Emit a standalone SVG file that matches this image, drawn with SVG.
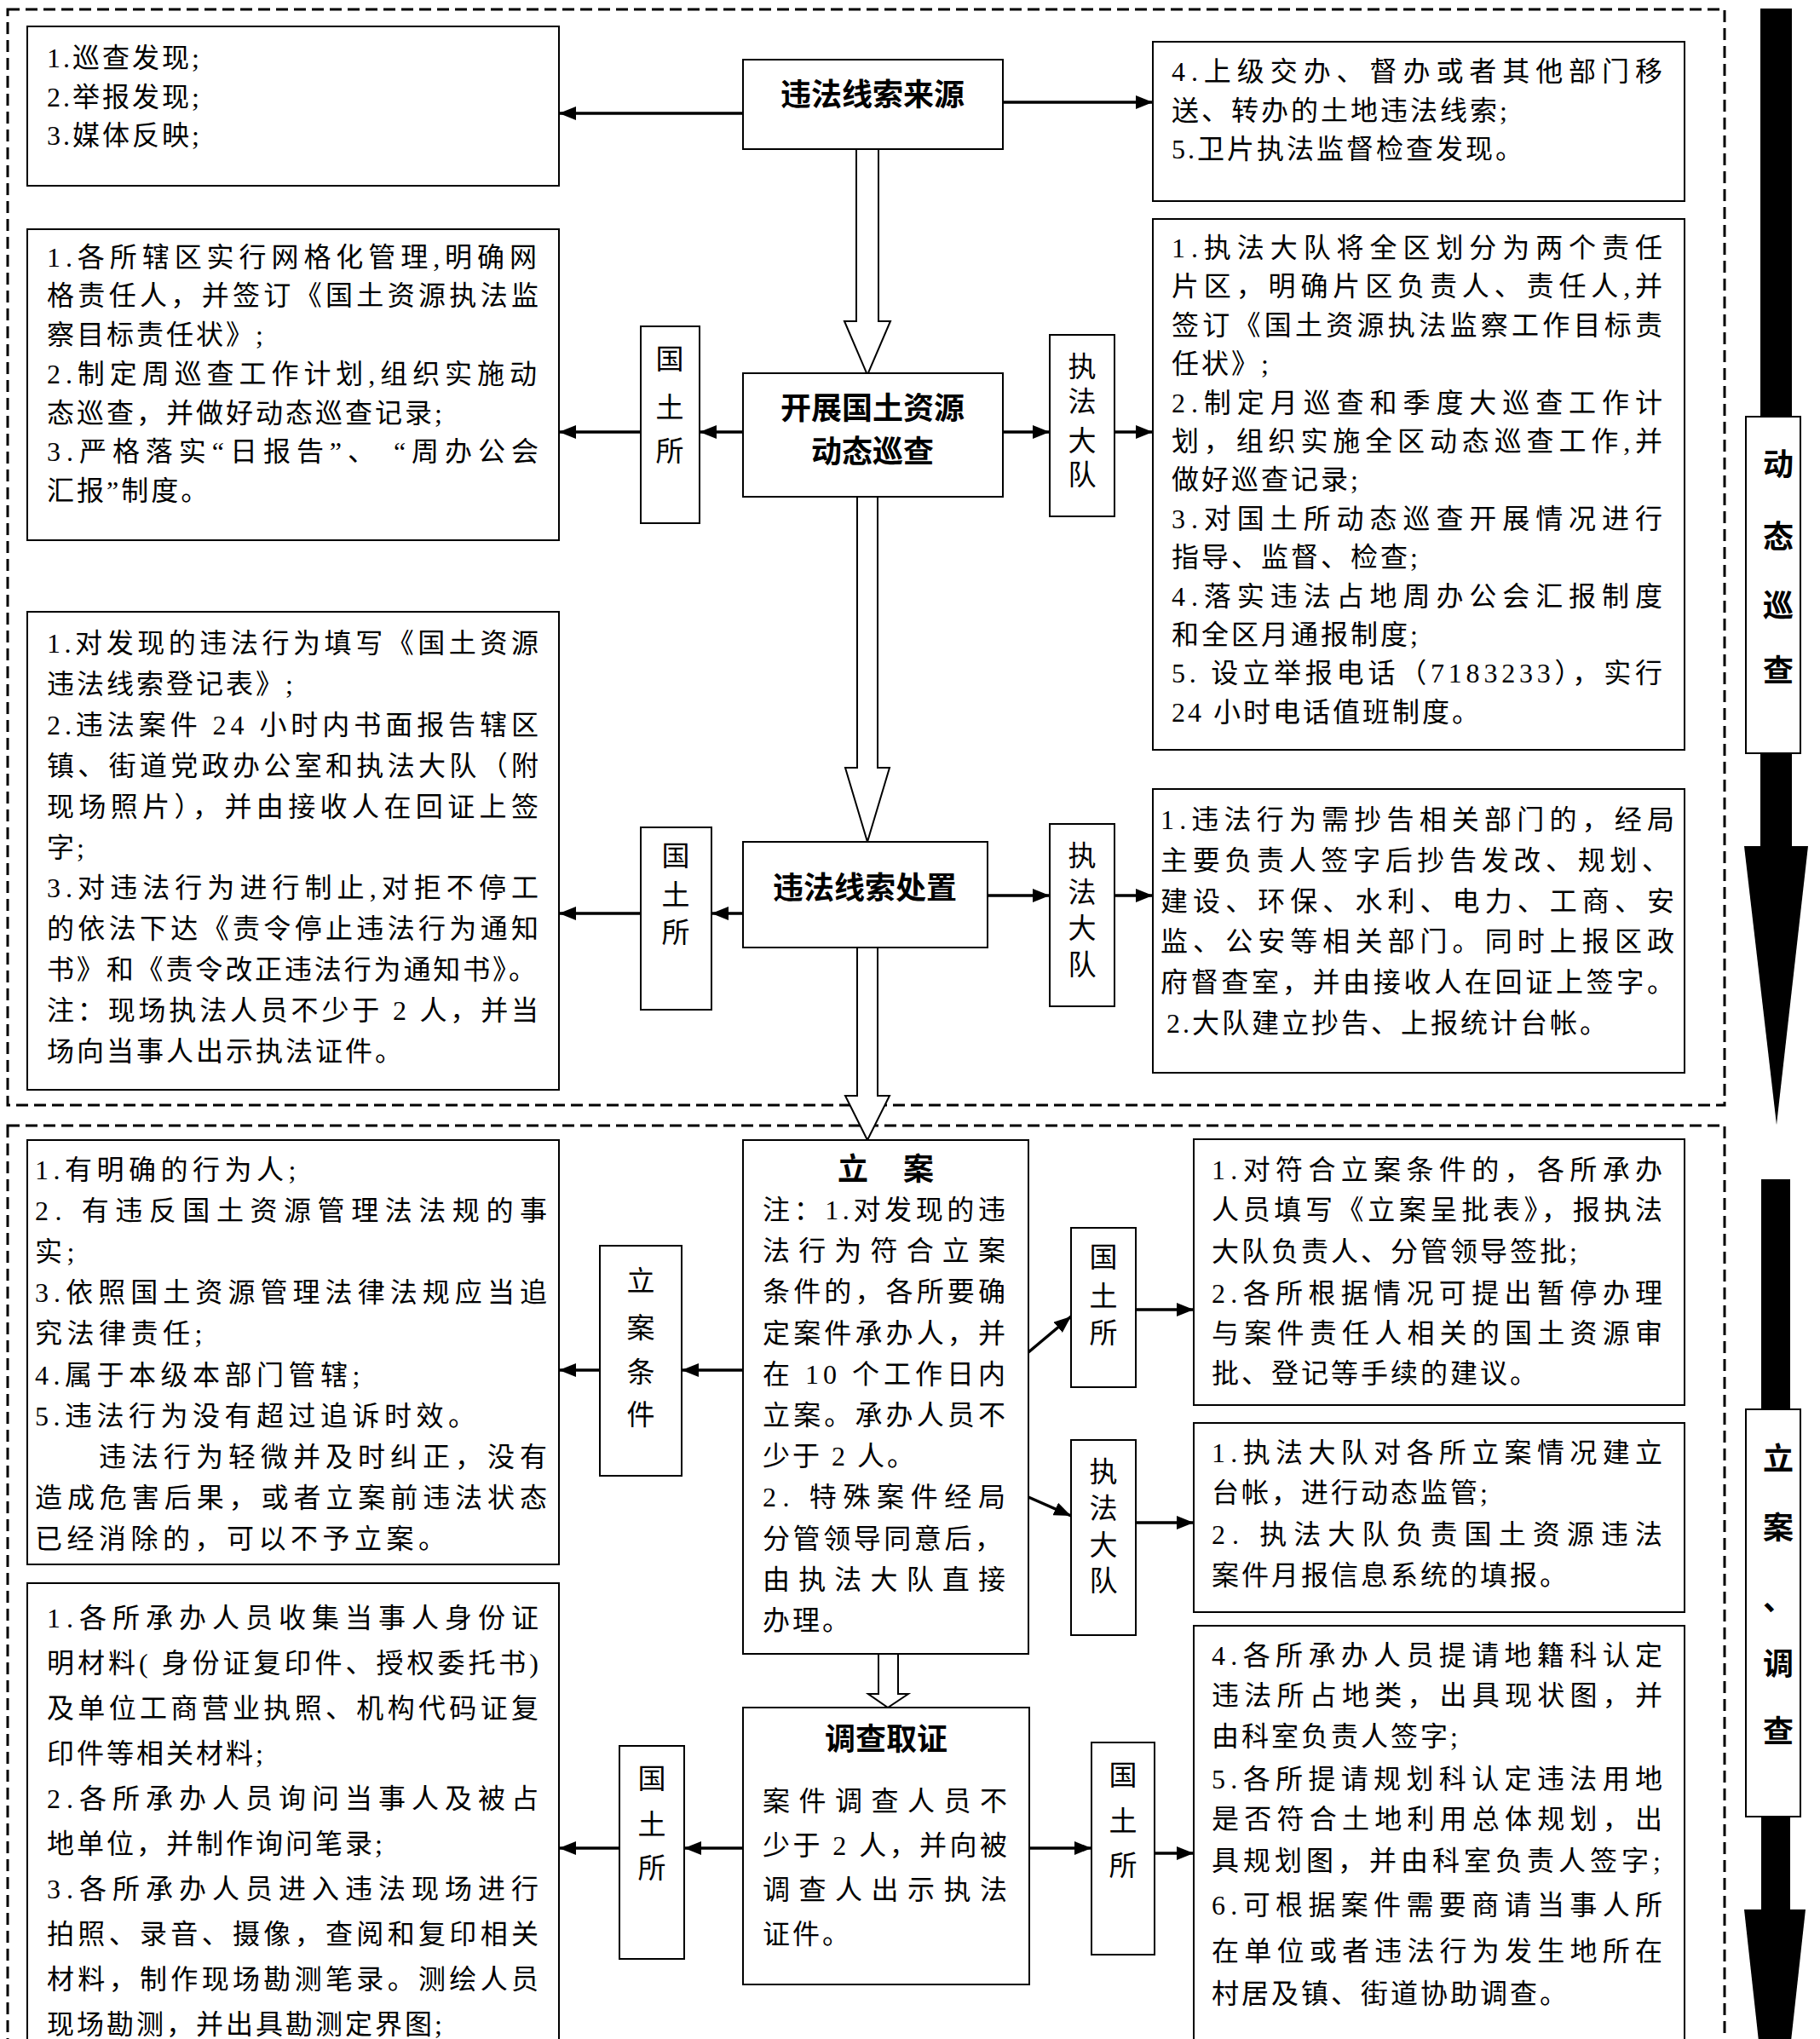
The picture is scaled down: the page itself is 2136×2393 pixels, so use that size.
<svg xmlns="http://www.w3.org/2000/svg" width="2136" height="2393" viewBox="0 0 2136 2393">
<style>
.bg{fill:#fff}
.box{fill:#fff;stroke:#000;stroke-width:2}
.dash{fill:none;stroke:#000;stroke-width:3;stroke-dasharray:14 7}
.t{font-family:"Liberation Serif","Noto Sans CJK SC",serif;font-size:32px;letter-spacing:3px;fill:#000}
.w{letter-spacing:5.5px}
.h{font-family:"Noto Sans CJK SC","Liberation Sans",sans-serif;font-weight:700;font-size:36px;fill:#000}
.v{font-family:"Liberation Serif","Noto Sans CJK SC",serif;font-size:33px;text-anchor:middle;fill:#000}
.lbl{font-family:"Noto Sans CJK SC","Liberation Sans",sans-serif;font-weight:700;font-size:36px;text-anchor:middle;fill:#000}
.ln{fill:none;stroke:#000;stroke-width:3.5;marker-end:url(#ah)}
.hollow{fill:#fff;stroke:#000;stroke-width:2}
.big{fill:#000}
</style>
<defs>
<marker id="ah" viewBox="0 0 20 16" refX="20" refY="8" markerWidth="20" markerHeight="16" markerUnits="userSpaceOnUse" orient="auto">
<path d="M0,0 L20,8 L0,16 z" fill="#000"/>
</marker>
</defs>
<rect class="bg" x="0" y="0" width="2136" height="2393"/>

<g id="frames">
<rect class="dash" x="9" y="11" width="2015" height="1286"/>
<rect class="dash" x="9" y="1321" width="2015" height="1100"/>
</g>

<g id="phase1">
<rect class="big" x="2066" y="10" width="37" height="984"/>
<polygon class="big" points="2047,993 2122,993 2085,1320"/>
<rect class="box" x="2049" y="489" width="64" height="395"/>
<text class="lbl" x="2087" y="558">动</text>
<text class="lbl" x="2087" y="643">态</text>
<text class="lbl" x="2087" y="724">巡</text>
<text class="lbl" x="2087" y="800">查</text>
</g>

<g id="phase2">
<rect class="big" x="2067" y="1384" width="34" height="858"/>
<polygon class="big" points="2047,2241 2119,2241 2083,2568"/>
<rect class="box" x="2049" y="1654" width="64" height="478"/>
<text class="lbl" x="2087" y="1725">立</text>
<text class="lbl" x="2087" y="1806">案</text>
<text class="lbl" x="2087" y="1890">、</text>
<text class="lbl" x="2087" y="1966">调</text>
<text class="lbl" x="2087" y="2045">查</text>
</g>

<g id="connectors">
<path class="hollow" d="M1005,175 L1005,377 L991,377 L1018,440 L1045,377 L1031,377 L1031,175"/>
<path class="hollow" d="M1006,583 L1006,901 L992,901 L1018,988 L1044,901 L1030,901 L1030,583"/>
<path class="hollow" d="M1006,1112 L1006,1286 L992,1286 L1018,1338 L1044,1286 L1030,1286 L1030,1112"/>
<path class="hollow" d="M1031,1941 L1031,1988 L1019,1988 L1042,2004 L1066,1988 L1054,1988 L1054,1941"/>
<line class="ln" x1="872" y1="133" x2="656" y2="133"/>
<line class="ln" x1="1177" y1="120" x2="1353" y2="120"/>
<line class="ln" x1="872" y1="507" x2="821" y2="507"/>
<line class="ln" x1="752" y1="507" x2="656" y2="507"/>
<line class="ln" x1="1177" y1="507" x2="1232" y2="507"/>
<line class="ln" x1="1308" y1="507" x2="1353" y2="507"/>
<line class="ln" x1="872" y1="1072" x2="835" y2="1072"/>
<line class="ln" x1="752" y1="1072" x2="656" y2="1072"/>
<line class="ln" x1="1159" y1="1051" x2="1232" y2="1051"/>
<line class="ln" x1="1308" y1="1051" x2="1353" y2="1051"/>
<line class="ln" x1="872" y1="1608" x2="800" y2="1608"/>
<line class="ln" x1="704" y1="1608" x2="656" y2="1608"/>
<line class="ln" x1="1207" y1="1587" x2="1257" y2="1545"/>
<line class="ln" x1="1207" y1="1757" x2="1257" y2="1779"/>
<line class="ln" x1="1333" y1="1537" x2="1401" y2="1537"/>
<line class="ln" x1="1333" y1="1787" x2="1401" y2="1787"/>
<line class="ln" x1="872" y1="2169" x2="803" y2="2169"/>
<line class="ln" x1="727" y1="2169" x2="656" y2="2169"/>
<line class="ln" x1="1208" y1="2169" x2="1281" y2="2169"/>
<line class="ln" x1="1355" y1="2175" x2="1401" y2="2175"/>
</g>

<g id="n-source">
<rect class="box" x="872" y="70" width="305" height="105"/>
<text class="h" x="1024" y="124" text-anchor="middle">违法线索来源</text>
</g>

<g id="n-src-left">
<rect class="box" x="32" y="31" width="624" height="187"/>
<text class="t" x="55" y="79">1.巡查发现;</text>
<text class="t" x="55" y="125">2.举报发现;</text>
<text class="t" x="55" y="170">3.媒体反映;</text>
</g>

<g id="n-src-right">
<rect class="box" x="1353" y="49" width="624" height="187"/>
<text class="t" x="1375" y="95" textLength="579" lengthAdjust="spacing">4.上级交办、督办或者其他部门移</text>
<text class="t" x="1375" y="141">送、转办的土地违法线索;</text>
<text class="t" x="1375" y="186">5.卫片执法监督检查发现。</text>
</g>

<g id="n-patrol">
<rect class="box" x="872" y="438" width="305" height="145"/>
<text class="h" x="1024" y="492" text-anchor="middle">开展国土资源</text>
<text class="h" x="1024" y="543" text-anchor="middle">动态巡查</text>
</g>

<g id="n-gts1">
<rect class="box" x="752" y="383" width="69" height="231"/>
<text class="v" x="786" y="433">国</text>
<text class="v" x="786" y="490">土</text>
<text class="v" x="786" y="541">所</text>
</g>

<g id="n-zfdd1">
<rect class="box" x="1232" y="393" width="76" height="213"/>
<text class="v" x="1270" y="442">执</text>
<text class="v" x="1270" y="483">法</text>
<text class="v" x="1270" y="529">大</text>
<text class="v" x="1270" y="569">队</text>
</g>

<g id="n-patrol-left">
<rect class="box" x="32" y="269" width="624" height="365"/>
<text class="t" x="55" y="313" textLength="578" lengthAdjust="spacing">1.各所辖区实行网格化管理,明确网</text>
<text class="t" x="55" y="358" textLength="580" lengthAdjust="spacing">格责任人，并签订《国土资源执法监</text>
<text class="t" x="55" y="404">察目标责任状》;</text>
<text class="t" x="55" y="450" textLength="578" lengthAdjust="spacing">2.制定周巡查工作计划,组织实施动</text>
<text class="t" x="55" y="496">态巡查，并做好动态巡查记录;</text>
<text class="t" x="55" y="541" textLength="580" lengthAdjust="spacing">3.严格落实“日报告”、 “周办公会</text>
<text class="t" x="55" y="587">汇报”制度。</text>
</g>

<g id="n-patrol-right">
<rect class="box" x="1353" y="257" width="624" height="623"/>
<text class="t" x="1375" y="302" textLength="579" lengthAdjust="spacing">1.执法大队将全区划分为两个责任</text>
<text class="t" x="1375" y="347" textLength="579" lengthAdjust="spacing">片区，明确片区负责人、责任人,并</text>
<text class="t" x="1375" y="393" textLength="579" lengthAdjust="spacing">签订《国土资源执法监察工作目标责</text>
<text class="t" x="1375" y="438">任状》;</text>
<text class="t" x="1375" y="484" textLength="579" lengthAdjust="spacing">2.制定月巡查和季度大巡查工作计</text>
<text class="t" x="1375" y="529" textLength="579" lengthAdjust="spacing">划，组织实施全区动态巡查工作,并</text>
<text class="t" x="1375" y="574">做好巡查记录;</text>
<text class="t" x="1375" y="620" textLength="579" lengthAdjust="spacing">3.对国土所动态巡查开展情况进行</text>
<text class="t" x="1375" y="665">指导、监督、检查;</text>
<text class="t" x="1375" y="711" textLength="579" lengthAdjust="spacing">4.落实违法占地周办公会汇报制度</text>
<text class="t" x="1375" y="756">和全区月通报制度;</text>
<text class="t" x="1375" y="801" textLength="579" lengthAdjust="spacing">5.  设立举报电话（7183233），实行</text>
<text class="t" x="1375" y="847">24 小时电话值班制度。</text>
</g>

<g id="n-dispose">
<rect class="box" x="872" y="988" width="287" height="124"/>
<text class="h" x="1015" y="1055" text-anchor="middle">违法线索处置</text>
</g>

<g id="n-gts2">
<rect class="box" x="752" y="971" width="83" height="214"/>
<text class="v" x="793" y="1016">国</text>
<text class="v" x="793" y="1062">土</text>
<text class="v" x="793" y="1106">所</text>
</g>

<g id="n-zfdd2">
<rect class="box" x="1232" y="967" width="76" height="214"/>
<text class="v" x="1270" y="1016">执</text>
<text class="v" x="1270" y="1059">法</text>
<text class="v" x="1270" y="1101">大</text>
<text class="v" x="1270" y="1144">队</text>
</g>

<g id="n-dispose-left">
<rect class="box" x="32" y="718" width="624" height="561"/>
<text class="t" x="55" y="766" textLength="580" lengthAdjust="spacing">1.对发现的违法行为填写《国土资源</text>
<text class="t" x="55" y="814">违法线索登记表》;</text>
<text class="t" x="55" y="862" textLength="580" lengthAdjust="spacing">2.违法案件 24 小时内书面报告辖区</text>
<text class="t" x="55" y="910" textLength="580" lengthAdjust="spacing">镇、街道党政办公室和执法大队（附</text>
<text class="t" x="55" y="958" textLength="580" lengthAdjust="spacing">现场照片），并由接收人在回证上签</text>
<text class="t" x="55" y="1006">字;</text>
<text class="t" x="55" y="1053" textLength="580" lengthAdjust="spacing">3.对违法行为进行制止,对拒不停工</text>
<text class="t" x="55" y="1101" textLength="580" lengthAdjust="spacing">的依法下达《责令停止违法行为通知</text>
<text class="t" x="55" y="1149" textLength="577" lengthAdjust="spacing">书》和《责令改正违法行为通知书》。</text>
<text class="t" x="55" y="1197" textLength="580" lengthAdjust="spacing">注：现场执法人员不少于 2 人，并当</text>
<text class="t" x="55" y="1245">场向当事人出示执法证件。</text>
</g>

<g id="n-dispose-right">
<rect class="box" x="1353" y="926" width="624" height="333"/>
<text class="t" x="1362" y="973" textLength="606" lengthAdjust="spacing">1.违法行为需抄告相关部门的，经局</text>
<text class="t" x="1362" y="1021" textLength="600" lengthAdjust="spacing">主要负责人签字后抄告发改、规划、</text>
<text class="t" x="1362" y="1069" textLength="606" lengthAdjust="spacing">建设、环保、水利、电力、工商、安</text>
<text class="t" x="1362" y="1116" textLength="606" lengthAdjust="spacing">监、公安等相关部门。同时上报区政</text>
<text class="t" x="1362" y="1164" textLength="606" lengthAdjust="spacing">府督查室，并由接收人在回证上签字。</text>
<text class="t" x="1369" y="1212">2.大队建立抄告、上报统计台帐。</text>
</g>

<g id="n-case">
<rect class="box" x="872" y="1338" width="335" height="603"/>
<text class="h" y="1385"><tspan x="983">立</tspan><tspan x="1060">案</tspan></text>
<text class="t" x="895" y="1431" textLength="288" lengthAdjust="spacing">注：1.对发现的违</text>
<text class="t" x="895" y="1479" textLength="288" lengthAdjust="spacing">法行为符合立案</text>
<text class="t" x="895" y="1527" textLength="288" lengthAdjust="spacing">条件的，各所要确</text>
<text class="t" x="895" y="1576" textLength="288" lengthAdjust="spacing">定案件承办人，并</text>
<text class="t" x="895" y="1624" textLength="288" lengthAdjust="spacing">在 10 个工作日内</text>
<text class="t" x="895" y="1672" textLength="288" lengthAdjust="spacing">立案。承办人员不</text>
<text class="t" x="895" y="1720">少于 2 人。</text>
<text class="t" x="895" y="1768" textLength="288" lengthAdjust="spacing">2. 特殊案件经局</text>
<text class="t" x="895" y="1817" textLength="284" lengthAdjust="spacing">分管领导同意后，</text>
<text class="t" x="895" y="1865" textLength="288" lengthAdjust="spacing">由执法大队直接</text>
<text class="t" x="895" y="1913">办理。</text>
</g>

<g id="n-case-cond">
<rect class="box" x="704" y="1462" width="96" height="270"/>
<text class="v" x="752" y="1515">立</text>
<text class="v" x="752" y="1570">案</text>
<text class="v" x="752" y="1622">条</text>
<text class="v" x="752" y="1672">件</text>
</g>

<g id="n-case-left">
<rect class="box" x="32" y="1338" width="624" height="498"/>
<text class="t w" x="41" y="1384">1.有明确的行为人;</text>
<text class="t" x="41" y="1432" textLength="604" lengthAdjust="spacing">2. 有违反国土资源管理法法规的事</text>
<text class="t w" x="41" y="1480">实;</text>
<text class="t" x="41" y="1528" textLength="604" lengthAdjust="spacing">3.依照国土资源管理法律法规应当追</text>
<text class="t w" x="41" y="1576">究法律责任;</text>
<text class="t w" x="41" y="1625">4.属于本级本部门管辖;</text>
<text class="t w" x="41" y="1673">5.违法行为没有超过追诉时效。</text>
<text class="t" x="116" y="1721" textLength="529" lengthAdjust="spacing">违法行为轻微并及时纠正，没有</text>
<text class="t" x="41" y="1769" textLength="604" lengthAdjust="spacing">造成危害后果，或者立案前违法状态</text>
<text class="t w" x="41" y="1817">已经消除的，可以不予立案。</text>
</g>

<g id="n-gts3">
<rect class="box" x="1257" y="1441" width="76" height="187"/>
<text class="v" x="1295" y="1487">国</text>
<text class="v" x="1295" y="1533">土</text>
<text class="v" x="1295" y="1576">所</text>
</g>

<g id="n-zfdd3">
<rect class="box" x="1257" y="1690" width="76" height="229"/>
<text class="v" x="1295" y="1739">执</text>
<text class="v" x="1295" y="1782">法</text>
<text class="v" x="1295" y="1825">大</text>
<text class="v" x="1295" y="1867">队</text>
</g>

<g id="n-case-right1">
<rect class="box" x="1401" y="1337" width="576" height="312"/>
<text class="t" x="1422" y="1384" textLength="532" lengthAdjust="spacing">1.对符合立案条件的，各所承办</text>
<text class="t" x="1422" y="1431" textLength="532" lengthAdjust="spacing">人员填写《立案呈批表》，报执法</text>
<text class="t" x="1422" y="1480">大队负责人、分管领导签批;</text>
<text class="t" x="1422" y="1529" textLength="532" lengthAdjust="spacing">2.各所根据情况可提出暂停办理</text>
<text class="t" x="1422" y="1576" textLength="532" lengthAdjust="spacing">与案件责任人相关的国土资源审</text>
<text class="t" x="1422" y="1623">批、登记等手续的建议。</text>
</g>

<g id="n-case-right2">
<rect class="box" x="1401" y="1670" width="576" height="222"/>
<text class="t" x="1422" y="1716" textLength="532" lengthAdjust="spacing">1.执法大队对各所立案情况建立</text>
<text class="t" x="1422" y="1763">台帐，进行动态监管;</text>
<text class="t" x="1422" y="1812" textLength="532" lengthAdjust="spacing">2.  执法大队负责国土资源违法</text>
<text class="t" x="1422" y="1860">案件月报信息系统的填报。</text>
</g>

<g id="n-investigate">
<rect class="box" x="872" y="2004" width="336" height="325"/>
<text class="h" x="1040" y="2054" text-anchor="middle">调查取证</text>
<text class="t" x="895" y="2125" textLength="290" lengthAdjust="spacing">案件调查人员不</text>
<text class="t" x="895" y="2177" textLength="290" lengthAdjust="spacing">少于 2 人，并向被</text>
<text class="t" x="895" y="2229" textLength="290" lengthAdjust="spacing">调查人出示执法</text>
<text class="t" x="895" y="2281">证件。</text>
</g>

<g id="n-gts4">
<rect class="box" x="727" y="2049" width="76" height="250"/>
<text class="v" x="765" y="2099">国</text>
<text class="v" x="765" y="2153">土</text>
<text class="v" x="765" y="2204">所</text>
</g>

<g id="n-gts5">
<rect class="box" x="1281" y="2045" width="74" height="249"/>
<text class="v" x="1318" y="2095">国</text>
<text class="v" x="1318" y="2149">土</text>
<text class="v" x="1318" y="2201">所</text>
</g>

<g id="n-inv-left">
<rect class="box" x="32" y="1858" width="624" height="560"/>
<text class="t" x="55" y="1910" textLength="580" lengthAdjust="spacing">1.各所承办人员收集当事人身份证</text>
<text class="t" x="55" y="1963" textLength="580" lengthAdjust="spacing">明材料( 身份证复印件、授权委托书)</text>
<text class="t" x="55" y="2016" textLength="580" lengthAdjust="spacing">及单位工商营业执照、机构代码证复</text>
<text class="t" x="55" y="2069">印件等相关材料;</text>
<text class="t" x="55" y="2122" textLength="580" lengthAdjust="spacing">2.各所承办人员询问当事人及被占</text>
<text class="t" x="55" y="2175">地单位，并制作询问笔录;</text>
<text class="t" x="55" y="2228" textLength="580" lengthAdjust="spacing">3.各所承办人员进入违法现场进行</text>
<text class="t" x="55" y="2281" textLength="580" lengthAdjust="spacing">拍照、录音、摄像，查阅和复印相关</text>
<text class="t" x="55" y="2334" textLength="580" lengthAdjust="spacing">材料，制作现场勘测笔录。测绘人员</text>
<text class="t" x="55" y="2387">现场勘测，并出具勘测定界图;</text>
</g>

<g id="n-inv-right">
<rect class="box" x="1401" y="1908" width="576" height="510"/>
<text class="t" x="1422" y="1954" textLength="532" lengthAdjust="spacing">4.各所承办人员提请地籍科认定</text>
<text class="t" x="1422" y="2001" textLength="532" lengthAdjust="spacing">违法所占地类，出具现状图，并</text>
<text class="t" x="1422" y="2049">由科室负责人签字;</text>
<text class="t" x="1422" y="2099" textLength="532" lengthAdjust="spacing">5.各所提请规划科认定违法用地</text>
<text class="t" x="1422" y="2146" textLength="532" lengthAdjust="spacing">是否符合土地利用总体规划，出</text>
<text class="t" x="1422" y="2195" textLength="530" lengthAdjust="spacing">具规划图，并由科室负责人签字;</text>
<text class="t" x="1422" y="2247" textLength="532" lengthAdjust="spacing">6.可根据案件需要商请当事人所</text>
<text class="t" x="1422" y="2301" textLength="532" lengthAdjust="spacing">在单位或者违法行为发生地所在</text>
<text class="t" x="1422" y="2351">村居及镇、街道协助调查。</text>
</g>
</svg>
